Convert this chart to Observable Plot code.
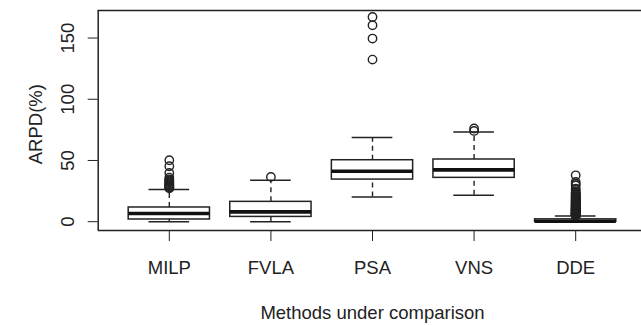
<!DOCTYPE html>
<html>
<head>
<meta charset="utf-8">
<script src="https://cdn.jsdelivr.net/npm/d3@7"></script>
<script src="https://cdn.jsdelivr.net/npm/@observablehq/plot@0.6"></script>
<style>
  html, body { margin: 0; padding: 0; background: #fff; overflow: hidden; }
</style>
</head>
<body>
<div id="chart"></div>
<script>
const methods = ["MILP", "FVLA", "PSA", "VNS", "DDE"];
const q1 = [1.8, 3.9, 34.4, 35.8, 0.0];
const medians = [6.7, 8.0, 41.2, 42.3, 0.4];
const q3 = [11.6, 16.2, 50.2, 50.8, 1.9];
const whiskerLow = [0.0, 0.0, 20.2, 21.6, 0.0];
const whiskerHigh = [26.3, 33.9, 68.7, 73.3, 4.7];

const outliersMILP = [50.2, 45.3, 39.8, 36.0, 34.6, 33.9, 32.8, 32.2, 31.2, 30.6, 29.8, 29.5, 29.0, 28.2, 27.8, 27.3];
const outliersFVLA = [36.6];
const outliersPSA = [167.2, 160.4, 149.6, 132.4];
const outliersVNS = [76.1, 74.1];
const outliersDDE = [37.9, 32.5, 30.8, 29.6, 27.0, 26.0, 24.3, 23.5, 23.0, 22.4, 21.8, 21.1, 20.5,
  20.0, 19.6, 19.1, 18.7, 18.2, 17.8, 17.4, 17.0, 16.6, 16.2, 15.8, 15.5, 15.1, 14.8, 14.4,
  14.1, 13.8, 13.5, 13.2, 12.9, 12.6, 12.3, 12.0, 11.8, 11.5, 11.2, 10.9, 10.7, 10.4, 10.2,
  10.0, 9.8, 9.5, 9.3, 9.1, 8.9, 8.7, 8.5, 8.3, 8.1, 7.9, 7.7, 7.5, 7.3, 7.1, 7.0, 6.8, 6.7,
  6.5, 6.4, 6.2, 6.1, 5.9, 5.8, 5.6, 5.5, 5.3, 5.2, 5.1, 5.0, 4.9];

const yTicks = [0, 50, 100, 150];
const xTitle = "Methods under comparison";
const yTitle = "ARPD(%)";

const stats = methods.map((m, k) => ({
  i: k + 1, m, q1: q1[k], med: medians[k], q3: q3[k], lo: whiskerLow[k], hi: whiskerHigh[k]
}));
const outlierLists = [outliersMILP, outliersFVLA, outliersPSA, outliersVNS, outliersDDE];
const outliers = outlierLists.flatMap((arr, k) => arr.map(v => ({i: k + 1, v})));

const yDomain = [-7.2, 172.5];
const xDomain = [0.3, 5.7];
const boxHalf = 0.4, capHalf = 0.2;
const ink = "#222";

const chart = Plot.plot({
  width: 641,
  height: 325,
  marginTop: 10,
  marginBottom: 95,
  marginLeft: 97.7,
  marginRight: 0,
  style: {fontFamily: "'Liberation Sans', Arial, sans-serif", fontSize: "18.5px", color: ink, background: "#fff", overflow: "hidden"},
  x: {domain: xDomain, range: [97.7, 646.3], ticks: [1, 2, 3, 4, 5], tickFormat: d => methods[d - 1], tickSize: 11, tickPadding: 19, label: null},
  y: {domain: yDomain, ticks: yTicks, tickSize: 10, tickFormat: () => "", label: null},
  marks: [
    // frame (top, bottom, left)
    Plot.ruleY([yDomain[0], yDomain[1]], {x1: xDomain[0], x2: xDomain[1], stroke: ink, strokeWidth: 1.5}),
    Plot.ruleX([xDomain[0]], {y1: yDomain[0], y2: yDomain[1], stroke: ink, strokeWidth: 1.5}),
    // whiskers
    Plot.ruleX(stats, {x: "i", y1: "q3", y2: "hi", stroke: ink, strokeWidth: 1.4, strokeDasharray: "5,4"}),
    Plot.ruleX(stats, {x: "i", y1: "lo", y2: "q1", stroke: ink, strokeWidth: 1.4, strokeDasharray: "5,4"}),
    Plot.ruleY(stats, {y: "hi", x1: d => d.i - capHalf, x2: d => d.i + capHalf, stroke: ink, strokeWidth: 1.5}),
    Plot.ruleY(stats, {y: "lo", x1: d => d.i - capHalf, x2: d => d.i + capHalf, stroke: ink, strokeWidth: 1.5}),
    // boxes
    Plot.rect(stats, {x1: d => d.i - boxHalf, x2: d => d.i + boxHalf, y1: "q1", y2: "q3", fill: "#fff", stroke: ink, strokeWidth: 1.5}),
    Plot.ruleY(stats, {y: "med", x1: d => d.i - boxHalf, x2: d => d.i + boxHalf, stroke: "#111", strokeWidth: 3.6}),
    // outliers
    Plot.dot(outliers, {x: "i", y: "v", r: 4.2, stroke: ink, strokeWidth: 1.4, fill: "none"}),
    // y tick labels (rotated like R)
    Plot.text(yTicks, {x: xDomain[0], y: d => d, text: d => String(d), rotate: -90, dx: -24, textAnchor: "middle", lineAnchor: "bottom", fill: ink}),
    // axis titles
    Plot.text([yTitle], {x: xDomain[0], y: (yDomain[0] + yDomain[1]) / 2 - 3, text: d => d, rotate: -90, dx: -56, textAnchor: "middle", lineAnchor: "bottom", fill: ink}),
    Plot.text([xTitle], {x: 3, y: yDomain[0], text: d => d, dy: 88, textAnchor: "middle", lineAnchor: "bottom", fill: ink})
  ]
});
document.getElementById("chart").appendChild(chart);
</script>
</body>
</html>
